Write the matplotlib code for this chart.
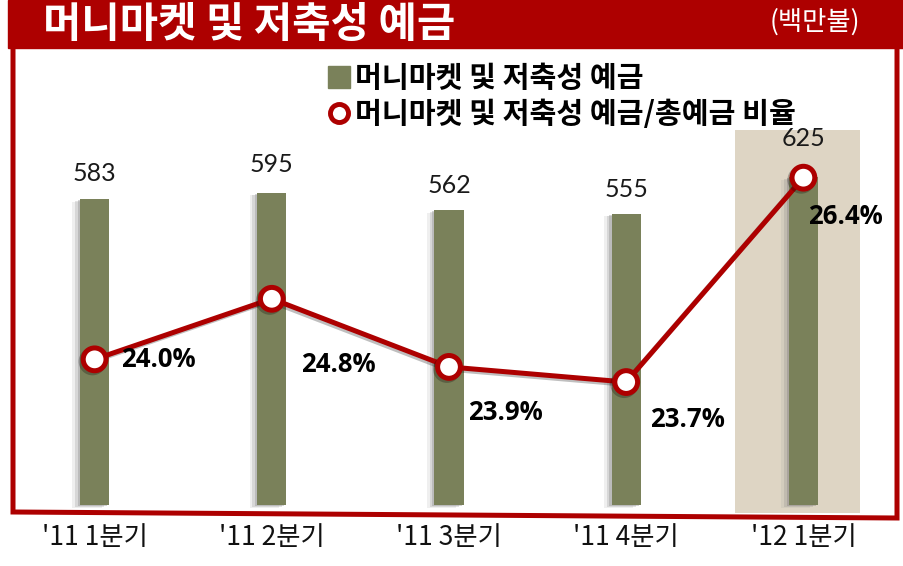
import matplotlib
matplotlib.use("Agg")
import matplotlib.pyplot as plt
import matplotlib.patheffects as pe
from matplotlib.lines import Line2D
from matplotlib.patches import Rectangle

plt.rcParams['font.family'] = ['Noto Sans CJK KR', 'DejaVu Sans']

# data
quarters = ["'11 1분기", "'11 2분기", "'11 3분기", "'11 4분기", "'12 1분기"]
deposits = [583, 595, 562, 555, 625]          # 백만불
ratio = [24.0, 24.8, 23.9, 23.7, 26.4]        # %

# label placement (offset points)
val_offsets = [(0, 10), (0, 12), (0, 9), (0, 9), (0, 19)]
pct_offsets = [(19, 0), (21, -47), (14, -33), (17, -27), (3, -28)]

RED = '#AD0000'
OLIVE = '#7A815A'
BEIGE = '#DED5C4'

W, H = 904, 566
fig = plt.figure(figsize=(W / 100, H / 100), dpi=100)

# title bar
fig.patches.append(Rectangle((8 / W, 1 - 48 / H), (W - 8) / W, 48 / H,
                             transform=fig.transFigure, color=RED, zorder=0))
fig.text(43 / W, 1 - 25 / H, '머니마켓 및 저축성 예금', color='white',
         fontsize=30, fontweight='bold', va='center', ha='left')
fig.text(815 / W, 1 - 22 / H, '(백만불)', color='white', fontsize=19,
         fontweight='light', style='italic', va='center', ha='center')

# red frame
frame_x = [13, 13, 897, 897]
frame_y = [48, 512, 518, 48]
fig.lines.append(Line2D([x / W for x in frame_x], [1 - y / H for y in frame_y],
                        transform=fig.transFigure, color=RED, lw=3.6,
                        solid_joinstyle='miter'))

ax = fig.add_axes([6 / W, 1 - 513 / H, 886 / W, 383 / H])
ax.set_xlim(-0.5, 4.5)
ax.set_ylim(-15.2, 714.3)
ax.patch.set_alpha(0)
for s in ax.spines.values():
    s.set_visible(False)

x = list(range(len(quarters)))

ax.axvspan(3.614, 4.319, color=BEIGE, zorder=0, lw=0)

shadow = [pe.SimplePatchShadow(offset=(-1.5, -1), shadow_rgbFace='#555555', alpha=0.25),
          pe.SimplePatchShadow(offset=(-3.5, -1.5), shadow_rgbFace='#777777', alpha=0.2),
          pe.SimplePatchShadow(offset=(-5.5, -2), shadow_rgbFace='#999999', alpha=0.15),
          pe.Normal()]
bars = ax.bar(x, deposits, width=0.165, color=OLIVE, zorder=2)
for b in bars:
    b.set_path_effects(shadow)

for xi, v, off in zip(x, deposits, val_offsets):
    ax.annotate(str(v), (xi, v), xytext=off, textcoords='offset points',
                ha='center', va='bottom', fontsize=18, family=['Lato', 'DejaVu Sans'],
                fontweight='normal', color='#1a1a1a', annotation_clip=False)

ax.set_xticks(x)
ax.set_xticklabels(quarters, fontsize=19, fontweight='light', color='#111111')
ax.tick_params(axis='x', length=0, pad=8)
ax.set_yticks([])

ax2 = ax.twinx()
ax2.set_ylim(21.97, 27.03)
ax2.set_yticks([])
for s in ax2.spines.values():
    s.set_visible(False)
ax2.plot(x, ratio, color=RED, lw=3.6, marker='o', ms=16.4, mfc='white',
         mec=RED, mew=3.6, zorder=3,
         path_effects=[pe.SimpleLineShadow(offset=(-1.5, -1.5), alpha=0.25), pe.Normal()])
for xi, r, off in zip(x, ratio, pct_offsets):
    ax2.annotate(f'{r:.1f}%', (xi, r), xytext=off, textcoords='offset points',
                 ha='left', va='center', fontsize=18.5, fontweight='bold',
                 family=['Open Sans', 'DejaVu Sans'], color='black')

handles = [Line2D([], [], ls='none', marker='s', ms=15.5, color=OLIVE),
           Line2D([], [], ls='none', marker='o', ms=13, mfc='white', mec=RED, mew=3.5)]
labels = ['머니마켓 및 저축성 예금', '머니마켓 및 저축성 예금/총예금 비율']
leg = fig.legend(handles, labels, loc='upper left', bbox_to_anchor=(327 / W, 1 - 63 / H),
                 frameon=False, handlelength=0.8, handletextpad=0.17, labelspacing=0.2,
                 borderpad=0, borderaxespad=0,
                 prop={'family': 'Noto Sans CJK KR', 'weight': 'bold', 'size': 21})

fig.savefig('out.png', dpi=100)
